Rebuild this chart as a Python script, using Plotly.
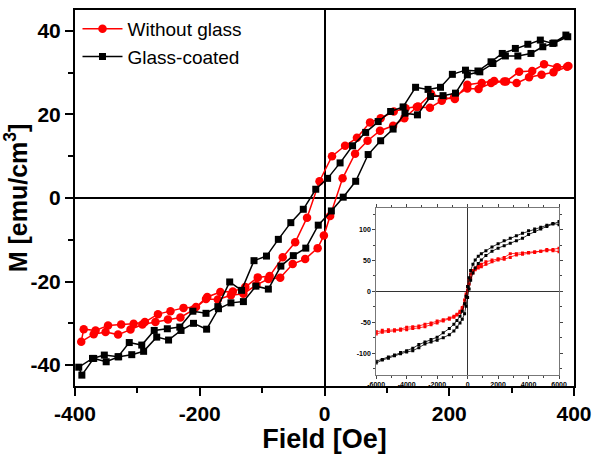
import plotly.graph_objects as go

# ---------------- main plot data (Field in Oe, M in emu/cm^3) ----------------
# "Without glass" – descending branch (listed with increasing field)
red_desc_x = [-386, -367, -347, -326, -306, -288, -267, -247, -226, -206, -188, -167, -147, -127, -107, -88,
              -67, -47, -28, -8, 12, 33, 52, 73, 90, 111, 130, 150, 171, 190, 209, 229, 252, 272, 291, 312,
              333, 352, 373, 391]
red_desc_y = [-31.4, -31.7, -30.5, -30.3, -30.1, -29.7, -27.8, -27.1, -26.3, -26.1, -23.7, -22.5, -22.4, -21.3,
              -19.0, -18.7, -14.2, -10.6, -4.7, 4.0, 10.0, 12.5, 14.4, 18.1, 19.1, 20.7, 21.5, 21.9, 24.9, 24.0,
              23.7, 27.1, 27.5, 28.0, 27.9, 30.2, 30.4, 32.0, 31.3, 31.6]
# "Without glass" – ascending branch
red_asc_x = [-390, -370, -351, -331, -311, -292, -271, -251, -231, -210, -190, -171, -150, -130, -109, -90,
             -71, -51, -31, -11, -1, 9, 29, 49, 69, 89, 110, 128, 148, 169, 188, 208, 229, 247, 267, 288, 308,
             328, 348, 367, 389]
red_asc_y = [-34.4, -32.6, -32.1, -32.7, -31.5, -30.3, -29.7, -29.1, -28.6, -26.7, -24.2, -24.3, -23.3, -22.9,
             -20.8, -19.4, -19.1, -15.8, -14.6, -12.0, -9.0, -4.3, 4.7, 10.6, 13.7, 16.1, 17.3, 19.1, 21.8, 21.6,
             23.3, 24.3, 26.2, 26.1, 27.5, 27.9, 27.5, 28.9, 29.5, 30.1, 31.4]

# "Glass-coated" – descending branch
blk_desc_x = [-394, -372, -353, -331, -313, -293, -273, -252, -232, -211, -190, -171, -152, -133, -113, -93,
              -74, -54, -34, -14, 5, 25, 45, 66, 86, 106, 126, 146, 166, 186, 205, 226, 246, 267, 285, 306,
              326, 346, 366, 387]
blk_desc_y = [-40.5, -38.4, -37.6, -38.0, -34.6, -35.2, -31.7, -31.3, -30.9, -27.1, -27.6, -26.0, -20.1, -22.1,
              -15.0, -13.9, -9.9, -5.9, -2.7, 2.1, 4.7, 8.4, 12.5, 15.7, 18.3, 20.7, 21.8, 26.5, 26.0, 26.5,
              29.6, 30.6, 30.4, 32.6, 34.6, 35.8, 36.8, 37.8, 37.0, 39.0]
# "Glass-coated" – ascending branch
blk_asc_x = [-389, -370, -350, -330, -309, -290, -269, -250, -230, -210, -189, -170, -150, -130, -110, -90,
             -70, -50, -30, -10, 11, 30, 50, 70, 90, 110, 129, 149, 170, 190, 210, 229, 249, 270, 290, 310,
             331, 350, 368, 390]
blk_asc_y = [-42.4, -38.4, -39.2, -38.0, -37.5, -36.7, -33.3, -34.0, -31.7, -30.0, -31.4, -26.5, -25.1, -24.8,
             -21.1, -21.8, -16.3, -13.8, -12.0, -6.5, -3.1, 0.2, 4.0, 10.4, 13.7, 16.5, 20.3, 19.9, 24.3, 24.5,
             25.1, 29.5, 30.2, 32.2, 34.0, 34.0, 34.6, 36.2, 37.1, 38.6]

# ---------------- inset data (wide field sweep) ----------------
ins_x = [-6000, -5600, -5200, -4800, -4400, -4000, -3600, -3200, -2800, -2400, -2000, -1600, -1200, -900,
         -700, -500, -350, -200, -100, 0, 100, 200, 350, 500, 700, 900, 1200, 1600, 2000, 2400, 2800, 3200,
         3600, 4000, 4400, 4800, 5200, 5600, 6000]
ins_red_desc = [-65, -63, -62, -62, -61, -58, -57, -56, -53, -51, -48, -46, -43, -40, -37, -32, -26, -14, -4,
                8, 20, 28, 34, 38, 41, 44, 48, 51, 53, 55, 61, 61, 62, 63, 64, 65, 68, 66, 64]
ins_red_asc = [-69, -66, -65, -64, -63, -62, -60, -59, -57, -54, -51, -48, -45, -42, -38, -34, -28, -19, -8,
               2, 12, 22, 30, 35, 38, 40, 44, 48, 51, 52, 55, 59, 60, 62, 63, 65, 66, 68, 70]
ins_blk_desc = [-113, -110, -106, -103, -99, -96, -92, -86, -82, -78, -74, -67, -60, -53, -47, -40, -32, -20,
                -8, 8, 22, 34, 44, 51, 57, 61, 66, 72, 77, 82, 86, 90, 94, 98, 101, 104, 107, 110, 108]
ins_blk_asc = [-116, -111, -108, -104, -101, -98, -96, -91, -85, -82, -79, -75, -70, -64, -58, -51, -45, -36,
               -24, -10, 4, 18, 30, 38, 45, 51, 58, 65, 70, 74, 78, 82, 86, 92, 97, 101, 105, 109, 113]

# tick labels (plain hyphen minus, as in the original figure)
main_xticks = [-400, -200, 0, 200, 400]
main_xlabels = ["-400", "-200", "0", "200", "400"]
main_yticks = [-40, -20, 0, 20, 40]
main_ylabels = ["-40", "-20", "0", "20", "40"]
ins_xticks = [-6000, -4000, -2000, 0, 2000, 4000, 6000]
ins_xlabels = ["-6000", "-4000", "-2000", "0", "2000", "4000", "6000"]
ins_yticks = [-100, -50, 0, 50, 100]
ins_ylabels = ["-100", "-50", "0", "50", "100"]

RED = "#FF0000"
BLK = "#000000"
FONT = "Liberation Sans, Arial, sans-serif"

fig = go.Figure()

# main loops: descending branch (high -> low field) followed by ascending branch
fig.add_trace(go.Scatter(
    x=red_desc_x[::-1] + red_asc_x, y=red_desc_y[::-1] + red_asc_y,
    mode="lines+markers", name="Without glass",
    line=dict(color=RED, width=1.5),
    marker=dict(symbol="circle", size=8.5, color=RED)))
fig.add_trace(go.Scatter(
    x=blk_desc_x[::-1] + blk_asc_x, y=blk_desc_y[::-1] + blk_asc_y,
    mode="lines+markers", name="Glass-coated",
    line=dict(color=BLK, width=1.5),
    marker=dict(symbol="square", size=7, color=BLK)))

# inset loops
fig.add_trace(go.Scatter(
    x=ins_x[::-1] + ins_x, y=ins_red_desc[::-1] + ins_red_asc,
    xaxis="x2", yaxis="y2", mode="lines+markers", showlegend=False,
    line=dict(color=RED, width=0.8), marker=dict(symbol="square", size=3, color=RED)))
fig.add_trace(go.Scatter(
    x=ins_x[::-1] + ins_x, y=ins_blk_desc[::-1] + ins_blk_asc,
    xaxis="x2", yaxis="y2", mode="lines+markers", showlegend=False,
    line=dict(color=BLK, width=0.8), marker=dict(symbol="square", size=3, color=BLK)))

fig.update_layout(
    width=600, height=454,
    margin=dict(l=73, r=20, t=8, b=65),
    paper_bgcolor="white", plot_bgcolor="white",
    font=dict(family=FONT, color="black"),
    showlegend=True,
    legend=dict(x=0.005, y=1.0, xanchor="left", yanchor="top",
                bgcolor="rgba(0,0,0,0)", font=dict(size=19, family=FONT, color="black"),
                itemwidth=40, tracegroupgap=0),
    xaxis=dict(
        range=[-400, 400], tickmode="array", tickvals=main_xticks, ticktext=main_xlabels,
        ticks="outside", ticklen=8, tickwidth=2, tickcolor="black",
        minor=dict(tickvals=[-300, -100, 100, 300], ticks="outside", ticklen=5, tickwidth=1.5,
                   tickcolor="black"),
        showline=True, linewidth=2, linecolor="black", mirror=True,
        showgrid=False, zeroline=True, zerolinecolor="black", zerolinewidth=1.5,
        tickfont=dict(size=21, family=FONT, weight="bold", color="black"),
        title=dict(text="Field [Oe]", font=dict(size=27, family=FONT, weight="bold", color="black"),
                   standoff=2)),
    yaxis=dict(
        range=[-45, 45], tickmode="array", tickvals=main_yticks, ticktext=main_ylabels,
        ticks="outside", ticklen=8, tickwidth=2, tickcolor="black",
        minor=dict(tickvals=[-30, -10, 10, 30], ticks="outside", ticklen=5, tickwidth=1.5, tickcolor="black"),
        showline=True, linewidth=2, linecolor="black", mirror=True,
        showgrid=False, zeroline=True, zerolinecolor="black", zerolinewidth=1.5,
        tickfont=dict(size=21, family=FONT, weight="bold", color="black"),
        title=dict(text="M [emu/cm<sup>3</sup>]", font=dict(size=25, family=FONT, weight="bold", color="black"),
                   standoff=5)),
    xaxis2=dict(
        domain=[0.6036, 0.970], anchor="y2", range=[-6000, 6000],
        tickmode="array", tickvals=ins_xticks, ticktext=ins_xlabels,
        ticks="outside", ticklen=3, tickwidth=0.8, tickcolor="#444",
        minor=dict(tickvals=[-5000, -3000, -1000, 1000, 3000, 5000], ticks="outside", ticklen=2,
                   tickwidth=0.8, tickcolor="#444"),
        showline=True, linewidth=1, linecolor="#777", mirror="allticks",
        showgrid=False, zeroline=True, zerolinecolor="#333", zerolinewidth=0.8,
        tickfont=dict(size=7, family=FONT, weight="bold", color="black")),
    yaxis2=dict(
        domain=[0.0297, 0.4734], anchor="x2", range=[-135, 135],
        tickmode="array", tickvals=ins_yticks, ticktext=ins_ylabels,
        ticks="outside", ticklen=3, tickwidth=0.8, tickcolor="#444",
        minor=dict(tickvals=[-125, -75, -25, 25, 75, 125], ticks="outside", ticklen=2,
                   tickwidth=0.8, tickcolor="#444"),
        showline=True, linewidth=1, linecolor="#777", mirror="allticks",
        showgrid=False, zeroline=True, zerolinecolor="#333", zerolinewidth=0.8,
        tickfont=dict(size=7, family=FONT, weight="bold", color="black")),
)

fig.write_html("out.html")
